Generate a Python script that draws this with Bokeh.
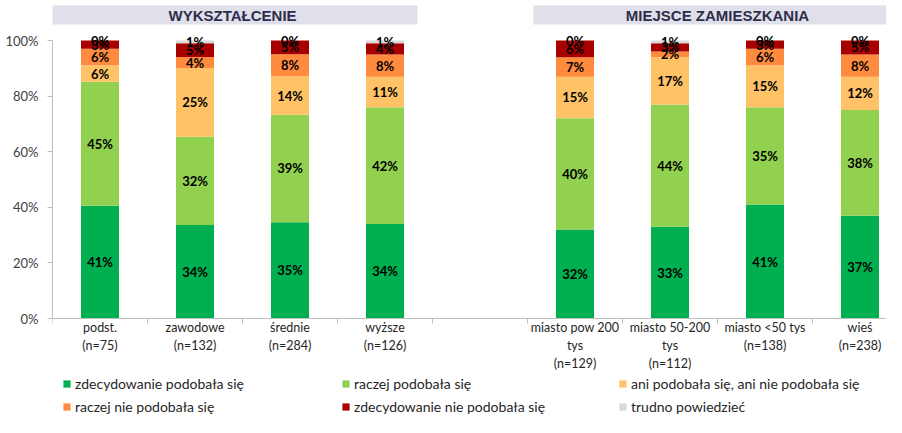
from bokeh.plotting import figure
from bokeh.models import ColumnDataSource, Legend, LegendItem, Span, FixedTicker
from bokeh.core.properties import value
from bokeh.embed import file_html
from bokeh.resources import INLINE

# ---------------- data ----------------
categories = ["podst.", "zawodowe", "średnie", "wyższe",
              "miasto pow 200 tys", "miasto 50-200 tys", "miasto <50 tys", "wieś"]
label_lines = [["podst.", "(n=75)"], ["zawodowe", "(n=132)"], ["średnie", "(n=284)"],
               ["wyższe", "(n=126)"], ["miasto pow 200", "tys", "(n=129)"],
               ["miasto 50-200", "tys", "(n=112)"], ["miasto <50 tys", "(n=138)"],
               ["wieś", "(n=238)"]]
slots = [0, 1, 2, 3, 5, 6, 7, 8]   # slot 4 is the empty gap between groups
group_titles = ["WYKSZTAŁCENIE", "MIEJSCE ZAMIESZKANIA"]

series_names = ["zdecydowanie podobała się", "raczej podobała się",
                "ani podobała się, ani nie podobała się", "raczej nie podobała się",
                "zdecydowanie nie podobała się", "trudno powiedzieć"]
zdec_pod = [41, 34, 35, 34, 32, 33, 41, 37]
raczej_pod = [45, 32, 39, 42, 40, 44, 35, 38]
ani_ani = [6, 25, 14, 11, 15, 17, 15, 12]
raczej_nie = [6, 4, 8, 8, 7, 2, 6, 8]
zdec_nie = [3, 5, 5, 4, 6, 3, 3, 5]
trudno = [0, 1, 0, 1, 0, 1, 0, 0]
series = [zdec_pod, raczej_pod, ani_ani, raczej_nie, zdec_nie, trudno]
colors = ["#00B050", "#92D050", "#FFC266", "#FF8B3F", "#A80000", "#D9D9D9"]
y_ticks = [0, 20, 40, 60, 80, 100]

# ---------------- figure ----------------
PX = 2.78          # pixels per percent
TOP_PAD = 40       # pixels between frame top and the 100% line
BOT_PAD = 99       # pixels between the 0% line and frame bottom
LEFT = 52
SLOT = 95
W, H = 886, 417
p = figure(width=W, height=H, output_backend="svg", toolbar_location=None,
           x_range=(0, (W - LEFT) / SLOT), y_range=(-BOT_PAD / PX, 100 + TOP_PAD / PX),
           min_border_left=LEFT, min_border_right=0, min_border_top=0, min_border_bottom=0,
           x_axis_location=None)
p.outline_line_color = None
p.xgrid.visible = False
p.ygrid.visible = False
p.background_fill_color = "white"

yax = p.yaxis[0]
yax.ticker = FixedTicker(ticks=y_ticks)
yax.major_label_overrides = {t: f"{t}%" for t in y_ticks}
yax.bounds = (0, 100)
yax.axis_line_color = "#BFBFBF"
yax.major_tick_line_color = "#BFBFBF"
yax.major_tick_out = 5
yax.major_tick_in = 0
yax.minor_tick_line_color = None
yax.major_label_text_font = "Lato"
yax.major_label_text_font_size = "13px"
yax.major_label_text_color = "#404040"
yax.major_label_standoff = 9

# normalised (100% stacked) values
x_centers = [s + 0.5 for s in slots]
totals = [sum(s[i] for s in series) for i in range(len(categories))]
data = {"x": x_centers}
keys = []
for k, s in enumerate(series):
    key = f"s{k}"
    keys.append(key)
    data[key] = [v * 100.0 / t for v, t in zip(s, totals)]
src = ColumnDataSource(data)
renderers = p.vbar_stack(keys, x="x", width=0.4, color=colors, line_color=None, source=src)

# value labels
lx, ly, lt = [], [], []
for i in range(len(categories)):
    bottom = 0.0
    for k, s in enumerate(series):
        h = data[keys[k]][i]
        lx.append(x_centers[i])
        ly.append(bottom + h / 2)
        lt.append(f"{s[i]}%")
        bottom += h
p.text(x=lx, y=ly, text=lt, text_align="center", text_baseline="middle",
       text_font=value("Lato"), text_font_style="bold", text_font_size="13px",
       text_color="black")

# x axis line and ticks
p.add_layout(Span(location=0, dimension="width", line_color="#BFBFBF", line_width=1))
bounds = list(range(0, 9))
p.segment(x0=bounds, y0=[0] * len(bounds), x1=bounds, y1=[-5 / PX] * len(bounds),
          line_color="#BFBFBF", line_width=1)

# category labels (multi-line)
tx, ty, tt = [], [], []
for i, lines in enumerate(label_lines):
    for j, line in enumerate(lines):
        tx.append(x_centers[i])
        ty.append(-(9 + 18 * j) / PX)
        tt.append(line)
p.text(x=tx, y=ty, text=tt, text_align="center", text_baseline="middle",
       text_font=value("Lato"), text_font_size="12.5px", text_color="#262626")

# group header boxes
y_top = 100 + 35 / PX
y_bot = 100 + 16 / PX
p.quad(left=[-5 / SLOT, 481 / SLOT], right=[365 / SLOT, 860 / SLOT], top=[y_top, y_top],
       bottom=[y_bot, y_bot], fill_color="#E0E0EA", line_color=None)
p.text(x=[1.895, 7.0], y=[100 + 25.5 / PX] * 2, text=group_titles,
       text_align="center", text_baseline="middle", text_font=value("Liberation Sans"),
       text_font_style="bold", text_font_size="15px", text_color="#2E2E4A")

# legend (three columns of two rows)
columns = [(0, 3), (1, 4), (2, 5)]
x_offsets = [10, 289, 566]
for (a, b), xo in zip(columns, x_offsets):
    leg = Legend(items=[LegendItem(label=series_names[a], renderers=[renderers[a]]),
                        LegendItem(label=series_names[b], renderers=[renderers[b]])],
                 location=(xo, 2), orientation="vertical")
    leg.padding = 0
    leg.margin = 0
    leg.spacing = 6
    leg.glyph_width = 9
    leg.glyph_height = 9
    leg.label_height = 14
    leg.label_standoff = 4
    leg.label_text_font = "Lato"
    leg.label_text_font_size = "14px"
    leg.label_text_color = "#262626"
    leg.background_fill_alpha = 0
    leg.border_line_alpha = 0
    p.add_layout(leg, "center")

open("out.html", "w").write(file_html(p, INLINE))
